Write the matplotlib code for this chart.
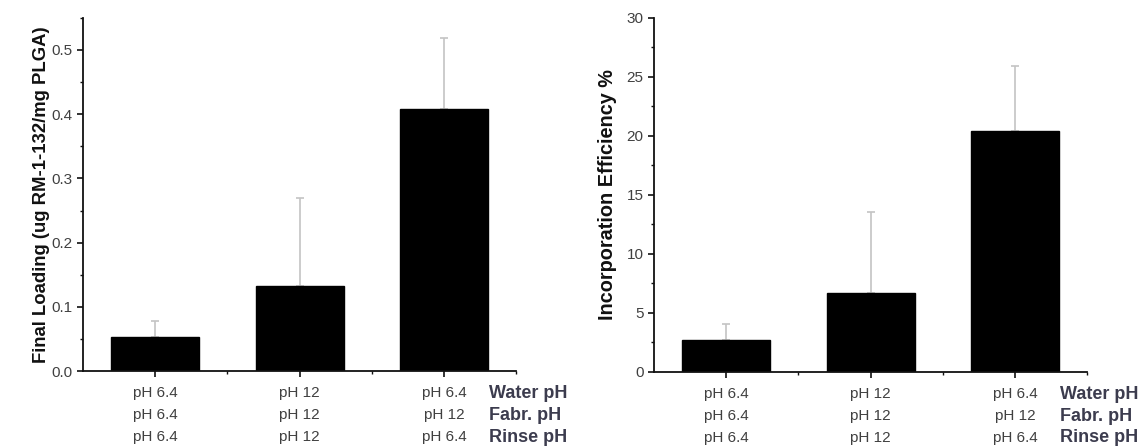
import matplotlib
matplotlib.use("Agg")
import matplotlib.pyplot as plt
from matplotlib.ticker import MultipleLocator, FixedLocator, FuncFormatter

plt.rcParams['font.family'] = ['Liberation Sans', 'DejaVu Sans']

# Formulation conditions (water / fabrication / rinse pH)
water_ph = ["pH 6.4", "pH 12", "pH 6.4"]
fabr_ph = ["pH 6.4", "pH 12", "pH 12"]
rinse_ph = ["pH 6.4", "pH 12", "pH 6.4"]
row_names = ["Water pH", "Fabr. pH", "Rinse pH"]

# Final loading (ug RM-1-132 / mg PLGA): mean and upper error
loading_mean = [0.053, 0.132, 0.408]
loading_err = [0.025, 0.138, 0.111]

# Incorporation efficiency (%): mean and upper error
eff_mean = [2.7, 6.7, 20.4]
eff_err = [1.35, 6.85, 5.5]

tick_labels = [f"{w}\n{f}\n{r}" for w, f, r in zip(water_ph, fabr_ph, rinse_ph)]
positions = [1, 2, 3]

fig = plt.figure(figsize=(11.46, 4.46), dpi=100)
ax1 = fig.add_axes([0.0724, 0.168, 0.378, 0.792])
ax2 = fig.add_axes([0.5707, 0.166, 0.378, 0.794])

TICK_COLOR = "#404040"
ROW_COLOR = "#3c3c4e"


def draw_panel(ax, means, errs, ylim, major, minor, ylabel, label_size,
               labelpad, fmt):
    ax.errorbar(positions, means, yerr=[[0] * len(errs), errs], fmt="none",
                ecolor="#c4c4c4", elinewidth=1.2, capsize=3, capthick=1.2,
                zorder=1)
    ax.bar(positions, means, width=0.61, color="black", edgecolor="black",
           zorder=2)
    ax.set_xlim(0.5, 3.5)
    ax.set_ylim(*ylim)
    ax.yaxis.set_major_locator(MultipleLocator(major))
    ax.yaxis.set_minor_locator(MultipleLocator(minor))
    ax.yaxis.set_major_formatter(fmt)
    ax.set_xticks(positions)
    ax.set_xticklabels(tick_labels, linespacing=1.7)
    ax.xaxis.set_minor_locator(FixedLocator([1.5, 2.5, 3.5]))
    for side in ("top", "right"):
        ax.spines[side].set_visible(False)
    for side in ("left", "bottom"):
        ax.spines[side].set_linewidth(1.3)
        ax.spines[side].set_color("#111111")
    ax.tick_params(axis="both", which="major", direction="out", length=4,
                   width=1.2, color="#111111", labelsize=11,
                   labelcolor=TICK_COLOR)
    ax.tick_params(axis="both", which="minor", direction="out", length=2.5,
                   width=1.0, color="#111111")
    ax.tick_params(axis="x", pad=7)
    ax.set_ylabel(ylabel, fontsize=label_size, fontweight="bold",
                  color="#111111", labelpad=labelpad)
    ax.text(3.31, -0.04, "\n".join(row_names),
            transform=ax.get_xaxis_transform(), ha="left", va="top",
            fontsize=13, fontweight="bold", color=ROW_COLOR, linespacing=1.36)


draw_panel(ax1, loading_mean, loading_err, (0, 0.55), 0.1, 0.05,
           "Final Loading (ug RM-1-132/mg PLGA)", 13.3, 1,
           FuncFormatter(lambda v, p: f"{v:.1f}"))
draw_panel(ax2, eff_mean, eff_err, (0, 30), 5, 2.5,
           "Incorporation Efficiency %", 14.3, 7,
           FuncFormatter(lambda v, p: f"{v:.0f}"))

fig.savefig("out.png", dpi=100)
